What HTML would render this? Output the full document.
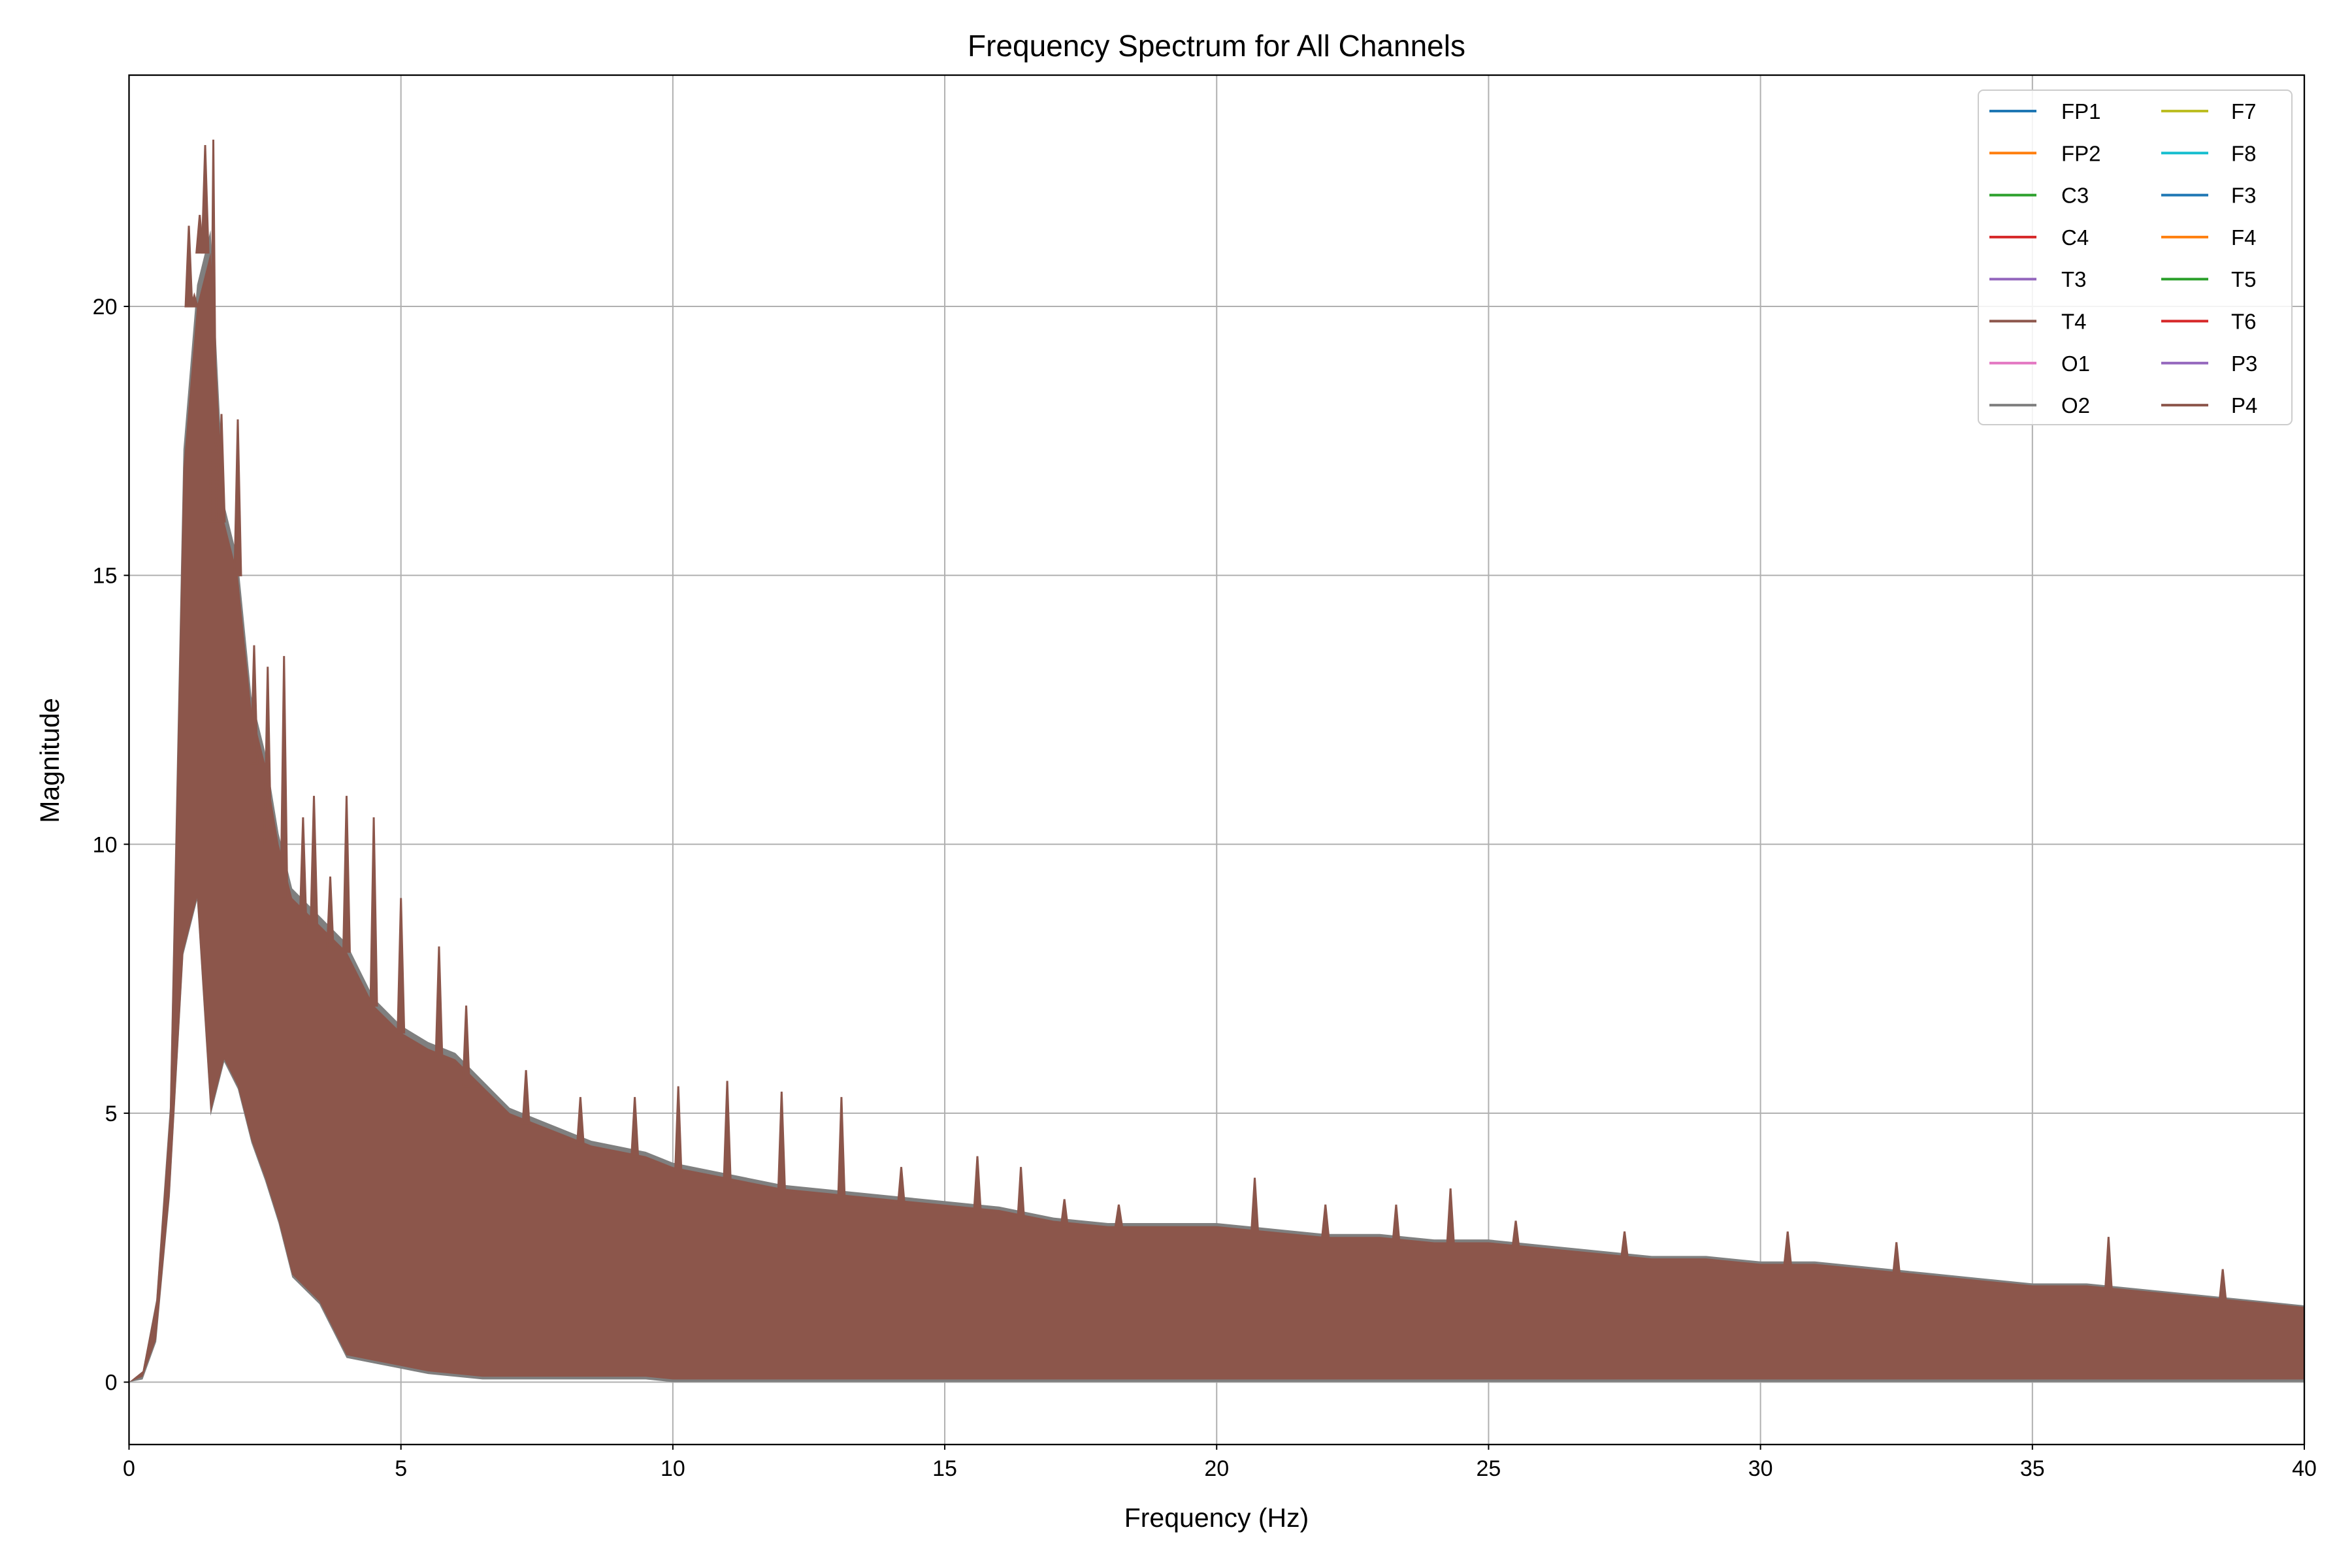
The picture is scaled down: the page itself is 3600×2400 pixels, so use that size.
<!DOCTYPE html>
<html><head><meta charset="utf-8"><style>
html,body{margin:0;padding:0;background:#fff;}
svg{display:block;font-family:"Liberation Sans","DejaVu Sans",sans-serif;}
</style></head><body>
<svg id="chart" width="3600" height="2400" viewBox="0 0 3600 2400" xmlns="http://www.w3.org/2000/svg">
<rect width="3600" height="2400" fill="#fff"/>
<text x="1862" y="86" font-size="46" text-anchor="middle">Frequency Spectrum for All Channels</text>
<g id="grid"></g>
<g id="marks"></g>
<rect x="197.5" y="115" width="3329.5" height="2096" fill="none" stroke="#000" stroke-width="2.3"/>
<g id="ticks"></g>
<text x="1862" y="2337" font-size="41" text-anchor="middle">Frequency (Hz)</text>
<text x="0" y="0" font-size="41" text-anchor="middle" transform="translate(90,1164) rotate(-90)">Magnitude</text>
<g id="legend"></g>
</svg>
<script>
const freqs = [0,0.25,0.5,0.75,1.0,1.25,1.5,1.75,2.0,2.25,2.5,2.75,3,3.5,4,4.5,5,5.5,6,6.5,7,7.5,8,8.5,9,9.5,10,11,12,13,14,15,16,17,18,19,20,21,22,23,24,25,26,27,28,29,30,31,32,33,34,35,36,37,38,39,40];
const upper = [0,0.2,1.5,5,17,20,21,16,15,12.5,11.5,10,9,8.5,8,7,6.5,6.2,6,5.5,5,4.8,4.6,4.4,4.3,4.2,4,3.8,3.6,3.5,3.4,3.3,3.2,3.0,2.9,2.9,2.9,2.8,2.7,2.7,2.6,2.6,2.5,2.4,2.3,2.3,2.2,2.2,2.1,2.0,1.9,1.8,1.8,1.7,1.6,1.5,1.4];
const lower = [0,0.1,0.8,3.5,8,9,5,6,5.5,4.5,3.8,3,2,1.5,0.5,0.4,0.3,0.2,0.15,0.1,0.1,0.1,0.1,0.1,0.1,0.1,0.05,0.05,0.05,0.05,0.05,0.05,0.05,0.05,0.05,0.05,0.05,0.05,0.05,0.05,0.05,0.05,0.05,0.05,0.05,0.05,0.05,0.05,0.05,0.05,0.05,0.05,0.05,0.05,0.05,0.05,0.05];
const peakFreqs = [1.1,1.2,1.3,1.4,1.55,1.7,2.0,2.3,2.55,2.85,3.2,3.4,3.7,4.0,4.5,5.0,5.7,6.2,7.3,8.3,9.3,10.1,11.0,12.0,13.1,14.2,15.6,16.4,17.2,18.2,20.7,22.0,23.3,24.3,25.5,27.5,30.5,32.5,36.4,38.5];
const peakVals = [21.5,20.2,21.7,23.0,23.1,18.0,17.9,13.7,13.3,13.5,10.5,10.9,9.4,10.9,10.5,9.0,8.1,7.0,5.8,5.3,5.3,5.5,5.6,5.4,5.3,4.0,4.2,4.0,3.4,3.3,3.8,3.3,3.3,3.6,3.0,2.8,2.8,2.6,2.7,2.1];
const xTicks = [0,5,10,15,20,25,30,35,40];
const yTicks = [0,5,10,15,20];
const channels = ["FP1","FP2","C3","C4","T3","T4","O1","O2","F7","F8","F3","F4","T5","T6","P3","P4"];
const colors = ["#1f77b4","#ff7f0e","#2ca02c","#d62728","#9467bd","#8c564b","#e377c2","#7f7f7f","#bcbd22","#17becf","#1f77b4","#ff7f0e","#2ca02c","#d62728","#9467bd","#8c564b"];

const L=197.5,R=3527,T=115,B=2211,X0=0,X1=40,Y0=-1.16,Y1=24.3;
const sx=v=>L+(v-X0)/(X1-X0)*(R-L);
const sy=v=>B-(v-Y0)/(Y1-Y0)*(B-T);
const NS="http://www.w3.org/2000/svg";
function mk(tag,attrs,parent){const e=document.createElementNS(NS,tag);for(const k in attrs)e.setAttribute(k,attrs[k]);parent.appendChild(e);return e;}
const grid=document.getElementById('grid'),marks=document.getElementById('marks'),ticks=document.getElementById('ticks'),legend=document.getElementById('legend');

xTicks.forEach(t=>{
  const g=mk('line',{x1:sx(t),x2:sx(t),y1:T,y2:B,stroke:'#b0b0b0','stroke-width':2},grid);
  
  
  mk('line',{x1:sx(t),x2:sx(t),y1:B,y2:B+8,stroke:'#000','stroke-width':2},ticks);
  const tx=mk('text',{x:sx(t),y:B+48,'font-size':34,'text-anchor':'middle'},ticks);
  tx.textContent=t;
  
  
});
yTicks.forEach(t=>{
  const g=mk('line',{x1:L,x2:R,y1:sy(t),y2:sy(t),stroke:'#b0b0b0','stroke-width':2},grid);
  
  
  mk('line',{x1:L-8,x2:L,y1:sy(t),y2:sy(t),stroke:'#000','stroke-width':2},ticks);
  const tx=mk('text',{x:L-18,y:sy(t)+12,'font-size':34,'text-anchor':'end'},ticks);
  tx.textContent=t;
  
  
});

let ptsG=freqs.map((f,i)=>sx(f)+','+sy(upper[i]*1.02)).concat(freqs.slice().reverse().map((f,j)=>{const i=freqs.length-1-j;return sx(f)+','+sy(Math.max(lower[i]-0.05,0));}));
const gb=mk('polygon',{points:ptsG.join(' '),fill:'#7f7f7f'},marks);


let pts=freqs.map((f,i)=>sx(f)+','+sy(upper[i])).concat(freqs.slice().reverse().map((f,j)=>{const i=freqs.length-1-j;return sx(f)+','+sy(lower[i]);}));
const band=mk('polygon',{points:pts.join(' '),fill:'#8c564b'},marks);


peakFreqs.forEach((f,i)=>{
  const ui=freqs.findIndex(x=>x>=f);
  const base=upper[Math.max(ui,0)];
  const p=mk('polygon',{points:[sx(f-0.06)+','+sy(base),sx(f)+','+sy(peakVals[i]),sx(f+0.06)+','+sy(base)].join(' '),fill:'#8c564b',stroke:'#8c564b','stroke-width':3},marks);
  
  
});

const lb=mk('rect',{x:3028,y:138,width:480,height:512,rx:8,fill:'#fff','fill-opacity':0.85,stroke:'#ccc','stroke-width':2},legend);


channels.forEach((c,i)=>{
  const col=Math.floor(i/8),row=i%8;
  const y=170+row*64.3;
  const lx=col?3308:3045, tx=col?3415:3155;
  const g=mk('g',{},legend);
  
  
  mk('line',{x1:lx,x2:lx+72,y1:y,y2:y,stroke:colors[i],'stroke-width':4},g);
  const t=mk('text',{x:tx,y:y+12,'font-size':33},g);
  t.textContent=c;
});
</script>
</body></html>
